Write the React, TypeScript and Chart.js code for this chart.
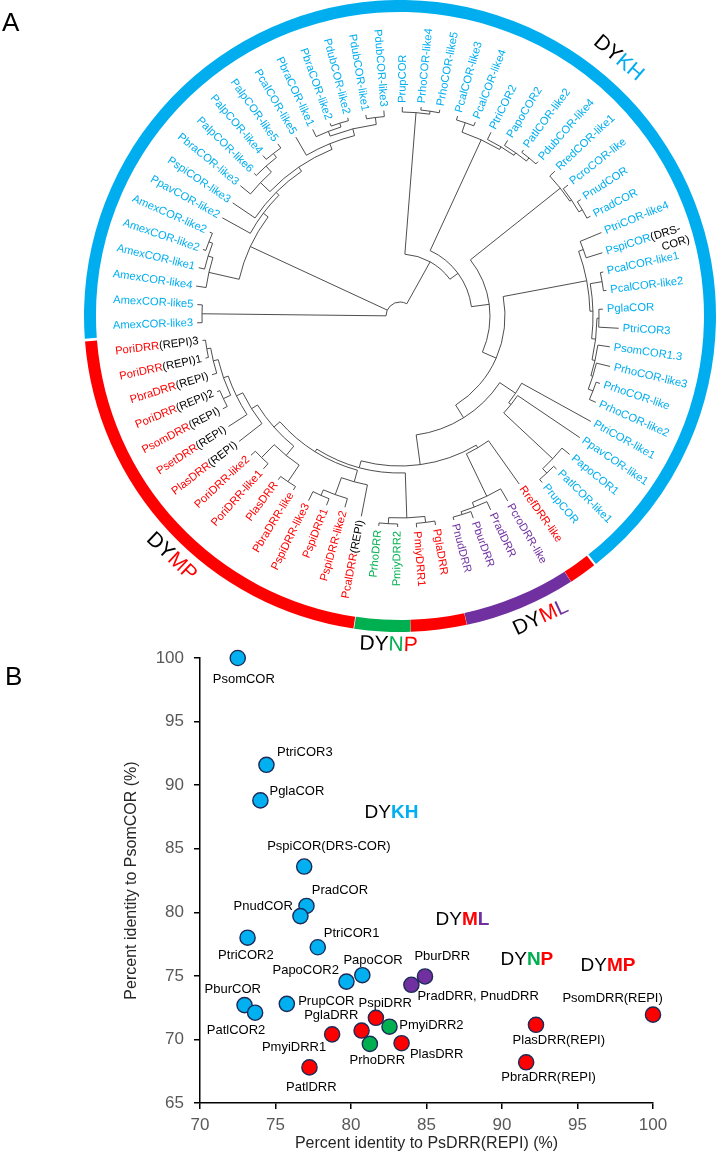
import React, { useEffect, useRef } from "react";
import { Chart, registerables } from "chart.js";

Chart.register(...registerables);

const FONT = "'Liberation Sans', Arial, Helvetica, sans-serif";
const BLUE = "#00AEEF";
const RED = "#FF0000";
const GREEN = "#00B050";
const PURPLE = "#7030A0";
const PT_BLUE = "#00B0F0";

// ---------------- Panel A : circular tree ----------------
const ringGroups = ["DYKH", "DYML-R", "DYML", "DYNP-R", "DYNP", "DYMP"];
const ringCounts = [46, 1, 4, 2, 2, 15];
const ringColors = [BLUE, RED, PURPLE, RED, GREEN, RED];
const ringStartDeg = 265.5;

const leafLabels = [
  "AmexCOR-like3", "AmexCOR-like5", "AmexCOR-like4", "AmexCOR-like1", "AmexCOR-like2", "AmexCOR-like2",
  "PpavCOR-like2", "PspiCOR-like3", "PbraCOR-like3", "PalpCOR-like6", "PalpCOR-like4", "PalpCOR-like5",
  "PcalCOR-like5", "PbraCOR-like1", "PbraCOR-like2", "PdubCOR-like2", "PdubCOR-like1", "PdubCOR-like3",
  "PrupCOR", "PrhoCOR-like4", "PrhoCOR-like5", "PcalCOR-like3", "PcalCOR-like4", "PtriCOR2", "PapoCOR2",
  "PatlCOR-like2", "PdubCOR-like4", "RredCOR-like1", "PcroCOR-like", "PnudCOR", "PradCOR", "PtriCOR-like4",
  "PspiCOR|(DRS-|COR)", "PcalCOR-like1", "PcalCOR-like2", "PglaCOR", "PtriCOR3", "PsomCOR1.3", "PrhoCOR-like3",
  "PrhoCOR-like", "PrhoCOR-like2", "PtriCOR-like1", "PpavCOR-like1", "PapoCOR1", "PatlCOR-like1", "PrupCOR",
  "RrefDRR-like", "PcroDRR-like", "PradDRR", "PburDRR", "PnudDRR", "PglaDRR", "PmiyDRR1", "PmiyDRR2", "PrhoDRR",
  "PcalDRR|(REPI)", "PspiDRR-like2", "PspiDRR1", "PspiDRR-like3", "PbraDRR-like", "PlasDRR", "PoriDRR-like1",
  "PoriDRR-like2", "PlasDRR|(REPI)", "PsetDRR|(REPI)", "PsomDRR|(REPI)", "PoriDRR|(REPI)2", "PbraDRR|(REPI)",
  "PoriDRR|(REPI)1", "PoriDRR|(REPI)3",
];

// tree topology: leaf = index:tipRadius, internal node = (children)nodeRadius
const cladeAmex = "(0:203,1:203)198";
const cladeUpperLeft =
  "((2:206,(3:207,(4:208,5:208)205)201)196,(6:203,(7:202,((8:206,(9:204,(10:211,11:211)206)201)193,(12:207,((13:206,(14:205,15:205)202)198,(16:204,17:206)200)193)186)180)175)171)165";
const cladeTop = "(18:209,(19:210,20:210)207)204";
const cladeCal = "((21:208,22:208)204,(23:205,(24:206,(25:207,26:207)204)200)197)194";
const cladeRred = "(27:212,(28:213,(29:215,30:215)211)207)205";
const cladeTri4 =
  "((31:218,32:212)195,((33:208,34:208)205,((35:203,36:219)199,(37:212,(38:216,(39:211,40:214)207)202)200)197)193)190";
const cladeLowCOR = "(41:218,(42:217,(43:219,(44:219,45:219)215)209)142)139";
const cladeML = "(46:206,(47:214,(48:214,(49:215,50:211)208)205)200)153";
const cladeNP = "((51:212,52:212)208,(53:211,54:211)208)202";
const cladeMP =
  "((55:204,(56:199,(57:203,58:206)196)190)172,(((59:204,60:204)200,(61:205,62:204)198)180,(63:204,(64:204,((65:200,66:198)195,(67:197,(68:199,69:199)196)192)187)182)175)168)160";
const cladeRest = `(${cladeTop},(${cladeCal},(${cladeRred},(${cladeTri4},(${cladeLowCOR},(${cladeML},(${cladeNP},${cladeMP})157)150)120)105)90)72)62`;
const treeNewick = `(${cladeAmex},${cladeUpperLeft},${cladeRest})14`;

const cladeTitleText = [["DY", "KH"], ["DY", "M", "L"], ["DY", "N", "P"], ["DY", "MP"]];
const cladeTitleColors = [["#000", BLUE], ["#000", RED, PURPLE], ["#000", GREEN, RED], ["#000", RED]];
const cladeTitleAngle = [40.3, 155, 182, 223.5];
const cladeTitleRadius = [338, 333, 329, 332];

// ---------------- Panel B : scatter ----------------
const ptNames = [
  "PsomCOR", "PtriCOR3", "PglaCOR", "PspiCOR(DRS-COR)", "PradCOR", "PnudCOR", "PtriCOR2", "PtriCOR1",
  "PapoCOR", "PapoCOR2", "PrupCOR", "PburCOR", "PatlCOR2",
  "PburDRR", "PradDRR, PnudDRR",
  "PspiDRR", "PglaDRR", "PmyiDRR1", "PlasDRR", "PatlDRR", "PsomDRR(REPI)", "PlasDRR(REPI)", "PbraDRR(REPI)",
  "PmyiDRR2", "PrhoDRR",
];
const ptX = [72.5, 74.4, 74.0, 76.9, 77.05, 76.65, 73.15, 77.8, 80.75, 79.7, 75.75, 72.95, 73.65,
  84.9, 84.0, 81.65, 80.7, 78.75, 83.35, 77.25, 100, 92.25, 91.6, 82.55, 81.25];
const ptY = [100, 91.6, 88.8, 83.6, 80.5, 79.7, 78.0, 77.25, 75.05, 74.55, 72.8, 72.7, 72.1,
  74.95, 74.3, 71.7, 70.7, 70.4, 69.7, 67.8, 71.95, 71.15, 68.2, 71.0, 69.65];
const ptGroup = ["KH", "KH", "KH", "KH", "KH", "KH", "KH", "KH", "KH", "KH", "KH", "KH", "KH",
  "ML", "ML", "MP", "MP", "MP", "MP", "MP", "MP", "MP", "MP", "NP", "NP"];
const lblX = [72.9, 75.1, 74.6, 74.45, 77.4, 76.15, 71.2, 78.2, 79.5, 74.8, 76.5, 70.3, 70.45,
  84.2, 84.4, 80.5, 76.9, 74.1, 83.9, 75.7, 94.0, 90.7, 89.95, 83.2, 79.9];
const lblY = [98.3, 92.6, 89.5, 85.2, 81.7, 80.45, 76.6, 78.3, 76.25, 75.4, 73.0, 73.9, 70.7,
  76.5, 73.4, 72.85, 71.9, 69.4, 68.85, 66.2, 73.25, 69.9, 67.0, 71.1, 68.35];
const lblAlign = ["center", "left", "left", "left", "left", "right", "left", "left", "left", "left", "left", "left", "left",
  "left", "left", "left", "left", "left", "left", "left", "left", "left", "left", "left", "left"];

const groupKeys = ["KH", "MP", "NP", "ML"];
const groupFill: Record<string, string> = { KH: PT_BLUE, MP: RED, NP: GREEN, ML: PURPLE };
const groupTitleText = [["DY", "KH"], ["DY", "M", "L"], ["DY", "N", "P"], ["DY", "MP"]];
const groupTitleColors = [["#000", PT_BLUE], ["#000", RED, PURPLE], ["#000", GREEN, RED], ["#000", RED]];
const groupTitleX = [80.9, 85.6, 89.9, 95.2];
const groupTitleY = [87.8, 79.45, 76.3, 75.77];

const xAxisTitle = "Percent identity to PsDRR(REPI) (%)";
const yAxisTitle = "Percent identity to PsomCOR (%)";

// ---------------- helpers ----------------
type TNode = { leaf?: number; r: number; children?: TNode[]; a?: number };

function parseTree(s: string): TNode {
  let i = 0;
  const num = () => {
    const j = i;
    while (i < s.length && /[0-9.]/.test(s[i])) i++;
    return parseFloat(s.slice(j, i));
  };
  const node = (): TNode => {
    if (s[i] === "(") {
      i++;
      const children: TNode[] = [];
      for (;;) {
        children.push(node());
        if (s[i] === ",") { i++; continue; }
        if (s[i] === ")") { i++; break; }
        break;
      }
      return { r: num(), children };
    }
    const leaf = num();
    i++; // ':'
    return { leaf, r: num() };
  };
  return node();
}

type Part = { t: string; c: string; f: string };
function drawParts(ctx: CanvasRenderingContext2D, parts: Part[], x: number, y: number, align: string) {
  let total = 0;
  const ws = parts.map((p) => {
    ctx.font = p.f;
    const w = ctx.measureText(p.t).width;
    total += w;
    return w;
  });
  let sx = align === "center" ? x - total / 2 : align === "right" ? x - total : x;
  ctx.textAlign = "left";
  parts.forEach((p, k) => {
    ctx.font = p.f;
    ctx.fillStyle = p.c;
    ctx.fillText(p.t, sx, y);
    sx += ws[k];
  });
}

const treePlugin = {
  id: "phyloTree",
  afterDatasetsDraw(chart: any) {
    const arcs = chart.getDatasetMeta(0).data as any[];
    if (!arcs.length) return;
    const cx = arcs[0].x;
    const cy = arcs[0].y;
    const leafAngle: number[] = [];
    const leafColor: string[] = [];
    arcs.forEach((arc, g) => {
      const { startAngle, endAngle } = arc.getProps(["startAngle", "endAngle"], true);
      const n = ringCounts[g];
      for (let j = 0; j < n; j++) {
        leafAngle.push(startAngle + ((j + 0.5) * (endAngle - startAngle)) / n);
        leafColor.push(ringColors[g]);
      }
    });
    const tree = parseTree(treeNewick);
    const leafTip: number[] = [];
    const assign = (n: TNode) => {
      if (n.children) {
        n.children.forEach(assign);
        n.a = (n.children[0].a! + n.children[n.children.length - 1].a!) / 2;
      } else {
        n.a = leafAngle[n.leaf!];
        leafTip[n.leaf!] = n.r;
      }
    };
    assign(tree);
    const ctx: CanvasRenderingContext2D = chart.ctx;
    ctx.save();
    ctx.strokeStyle = "#3a3a3a";
    ctx.lineWidth = 0.9;
    const draw = (n: TNode) => {
      if (!n.children) return;
      const a1 = n.children[0].a!;
      const a2 = n.children[n.children.length - 1].a!;
      ctx.beginPath();
      ctx.arc(cx, cy, n.r, a1, a2);
      ctx.stroke();
      n.children.forEach((c) => {
        ctx.beginPath();
        ctx.moveTo(cx + n.r * Math.cos(c.a!), cy + n.r * Math.sin(c.a!));
        ctx.lineTo(cx + c.r * Math.cos(c.a!), cy + c.r * Math.sin(c.a!));
        ctx.stroke();
        draw(c);
      });
    };
    draw(tree);

    // leaf labels
    const lf = `11.2px ${FONT}`;
    ctx.textBaseline = "middle";
    leafLabels.forEach((label, i) => {
      const a = leafAngle[i];
      const r = leafTip[i] + 4;
      const parts = label.split("|");
      const theta = (((a * 180) / Math.PI + 90) % 360 + 360) % 360;
      const flip = theta >= 180;
      ctx.save();
      ctx.translate(cx + r * Math.cos(a), cy + r * Math.sin(a));
      ctx.rotate(flip ? a + Math.PI : a);
      ctx.font = lf;
      const w0 = ctx.measureText(parts[0]).width;
      const w1 = parts[1] ? ctx.measureText(parts[1]).width : 0;
      const x0 = flip ? -(w0 + w1) : 0;
      ctx.textAlign = "left";
      ctx.fillStyle = leafColor[i];
      ctx.fillText(parts[0], x0, 0);
      if (parts[1]) {
        ctx.fillStyle = "#000";
        ctx.fillText(parts[1], x0 + w0, 0);
      }
      if (parts[2]) {
        ctx.fillStyle = "#000";
        ctx.fillText(parts[2], x0 + w0 + 8, 13);
      }
      ctx.restore();
    });

    // clade titles around ring
    cladeTitleText.forEach((txt, k) => {
      const th = cladeTitleAngle[k];
      const a = ((th - 90) * Math.PI) / 180;
      const r = cladeTitleRadius[k];
      const rot = th > 90 && th < 270 ? th - 180 : th;
      ctx.save();
      ctx.translate(cx + r * Math.cos(a), cy + r * Math.sin(a));
      ctx.rotate((rot * Math.PI) / 180);
      ctx.textBaseline = "middle";
      drawParts(
        ctx,
        txt.map((t, j) => ({ t, c: cladeTitleColors[k][j], f: `21px ${FONT}` })),
        0,
        0,
        "center"
      );
      ctx.restore();
    });
    ctx.restore();
  },
};

const scatterLabelPlugin = {
  id: "ptLabels",
  afterDatasetsDraw(chart: any) {
    const ctx: CanvasRenderingContext2D = chart.ctx;
    const xs = chart.scales.x;
    const ys = chart.scales.y;
    ctx.save();
    ctx.textBaseline = "middle";
    ptNames.forEach((name, i) => {
      drawParts(ctx, [{ t: name, c: "#000", f: `13px ${FONT}` }], xs.getPixelForValue(lblX[i]), ys.getPixelForValue(lblY[i]), lblAlign[i]);
    });
    groupTitleText.forEach((txt, k) => {
      drawParts(
        ctx,
        txt.map((t, j) => ({ t, c: groupTitleColors[k][j], f: `${j === 0 ? "" : "bold "}19px ${FONT}` })),
        xs.getPixelForValue(groupTitleX[k]),
        ys.getPixelForValue(groupTitleY[k]),
        "left"
      );
    });
    ctx.restore();
  },
};

export default function App() {
  const refA = useRef<HTMLCanvasElement | null>(null);
  const refB = useRef<HTMLCanvasElement | null>(null);

  useEffect(() => {
    const chartA = new Chart(refA.current as HTMLCanvasElement, {
      type: "doughnut",
      data: {
        labels: ringGroups,
        datasets: [
          {
            data: ringCounts,
            backgroundColor: ringColors,
            borderWidth: 0,
            hoverBorderWidth: 0,
            offset: 0,
            hoverOffset: 0,
          } as any,
        ],
      },
      options: {
        responsive: false,
        animation: false,
        events: [],
        rotation: ringStartDeg,
        radius: 315,
        cutout: 303,
        spacing: 2,
        layout: { padding: { left: 80, right: 5, top: 0, bottom: 38 } },
        plugins: { legend: { display: false }, tooltip: { enabled: false } },
      } as any,
      plugins: [treePlugin],
    });

    const tickFont = { family: FONT, size: 17 };
    const titleFont = { family: FONT, size: 16 };
    const chartB = new Chart(refB.current as HTMLCanvasElement, {
      type: "scatter",
      data: {
        datasets: groupKeys.map((g) => ({
          label: g,
          data: ptNames.map((_, i) => i).filter((i) => ptGroup[i] === g).map((i) => ({ x: ptX[i], y: ptY[i] })),
          backgroundColor: groupFill[g],
          borderColor: "#1c2b57",
          borderWidth: 1.4,
          pointRadius: 7.6,
          clip: false,
        })) as any,
      },
      options: {
        responsive: false,
        animation: false,
        events: [],
        layout: { padding: { left: 118, right: 72, top: 28, bottom: 4 } },
        plugins: { legend: { display: false }, tooltip: { enabled: false } },
        scales: {
          x: {
            type: "linear",
            min: 70,
            max: 100,
            ticks: { stepSize: 5, color: "#595959", font: tickFont, padding: 6 },
            grid: { drawOnChartArea: false, drawTicks: true, tickLength: 6, color: "#000", lineWidth: 1.5 },
            border: { display: true, color: "#000", width: 1.5 },
            title: { display: true, text: xAxisTitle, color: "#262626", font: titleFont, padding: { top: 4, bottom: 4 } },
            afterFit: (s: any) => { s.height = 54; },
          },
          y: {
            type: "linear",
            min: 65,
            max: 100,
            ticks: { stepSize: 5, color: "#595959", font: tickFont, padding: 10 },
            grid: { drawOnChartArea: false, drawTicks: true, tickLength: 6, color: "#000", lineWidth: 1.5 },
            border: { display: true, color: "#000", width: 1.5 },
            title: { display: true, text: yAxisTitle, color: "#262626", font: titleFont, padding: { top: 4, bottom: 4 } },
            afterFit: (s: any) => { s.width = 82; },
          },
        },
      } as any,
      plugins: [scatterLabelPlugin],
    });

    return () => {
      chartA.destroy();
      chartB.destroy();
    };
  }, []);

  const letter: React.CSSProperties = {
    position: "absolute",
    fontFamily: FONT,
    fontSize: 26,
    lineHeight: "30px",
    color: "#000",
  };

  return (
    <div style={{ position: "absolute", left: 0, top: 0, width: 725, height: 1161, background: "#fff", overflow: "hidden" }}>
      <canvas ref={refA} width={725} height={670} style={{ position: "absolute", left: 0, top: 0, width: 725, height: 670 }} />
      <canvas ref={refB} width={725} height={531} style={{ position: "absolute", left: 0, top: 630, width: 725, height: 531 }} />
      <div style={{ ...letter, left: 2, top: 7 }}>A</div>
      <div style={{ ...letter, left: 5, top: 661 }}>B</div>
    </div>
  );
}
